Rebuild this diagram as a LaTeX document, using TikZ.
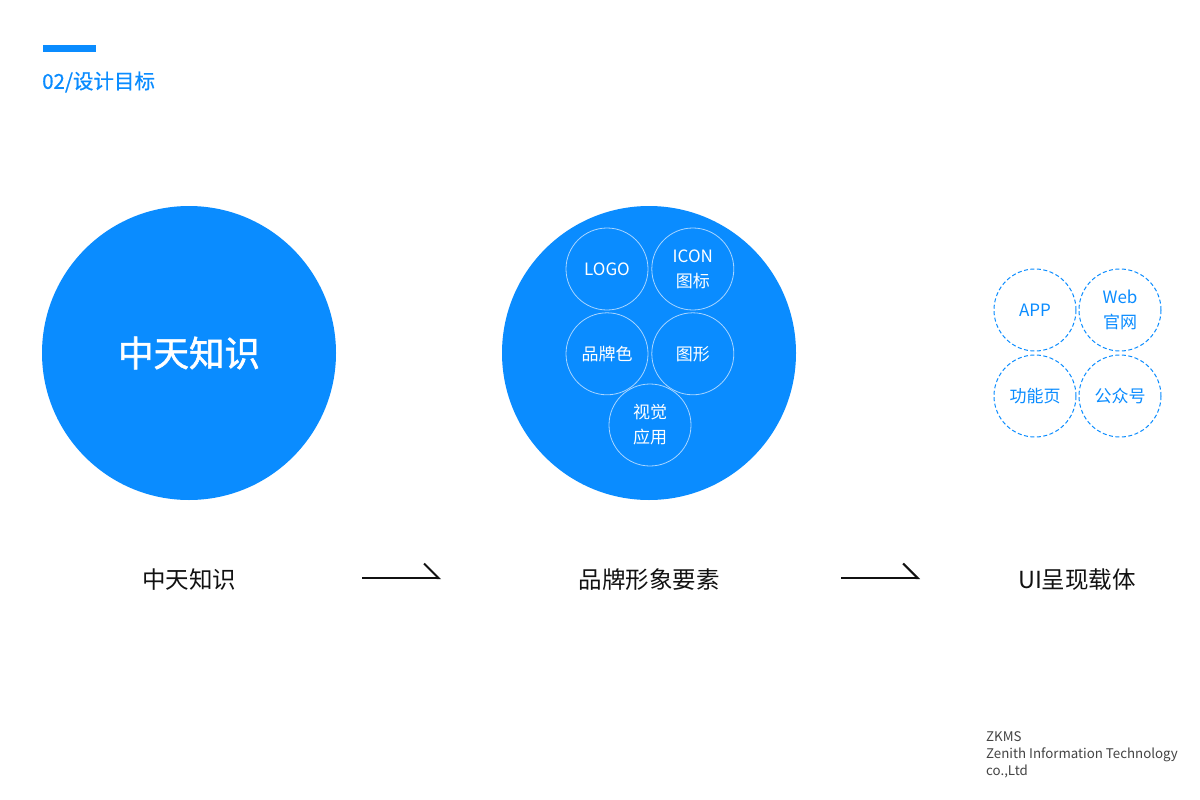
\documentclass[tikz,border=0pt]{standalone}
\usepackage{fontspec}
\setmainfont{Noto Sans CJK SC}
\newfontfamily\heavyfont{Noto Sans CJK SC}[FakeBold=1.6]
\newfontfamily\semifont{Noto Sans CJK SC}[FakeBold=0.6]
\usetikzlibrary{arrows.meta,positioning}
\definecolor{Brand}{HTML}{0A8CFF}
\definecolor{Ink}{HTML}{111111}
\definecolor{Grey}{HTML}{444444}
\definecolor{Ring}{HTML}{A8D5FF}

\begin{document}
\begin{tikzpicture}[
  x=1pt,y=-1pt,
  node distance=3pt,
  disc/.style={circle,fill=Brand,minimum size=294pt,inner sep=0pt},
  elem/.style={circle,draw=Ring,line width=0.8pt,minimum size=82pt,inner sep=0pt,align=center,text=white,font=\fontsize{17}{25}\selectfont},
  carrier/.style={circle,draw=Brand,dash pattern=on 4pt off 2.5pt,line width=1pt,minimum size=82pt,inner sep=0pt,align=center,text=Brand,font=\fontsize{17}{25}\selectfont},
  caption/.style={inner sep=0pt,text=Ink,font=\fontsize{23.5}{28}\selectfont},
  flow/.style={-{Straight Barb[left,length=14.5pt,width=29pt]},line width=2pt,draw=Ink}
]
\useasboundingbox (0,0) rectangle (1200,800);
\fill[white] (0,0) rectangle (1200,800);
% header
\fill[Brand] (43,45) rectangle (96,52);
\node[anchor=west,inner sep=0pt,text=Brand,font=\fontsize{20.5}{24}\semifont] (title) at (42,82) {02/设计目标};
% three stages
\node[disc,text=white,font=\fontsize{35.5}{40}\heavyfont] (source) at (189,353) {中天知识};
\node[disc] (brand) at (649,353) {};
\node[elem] (logo) at (607,269) {LOGO};
\node[elem,right=of logo] (icon) {ICON\\图标};
\node[elem,below=2pt of logo] (color) {品牌色};
\node[elem,right=of color] (shape) {图形};
\node[elem] (visual) at (650,425) {视觉\\应用};
\node[carrier] (app) at (1035,310) {APP};
\node[carrier,right=2pt of app] (web) {Web\\官网};
\node[carrier,below=3pt of app] (page) {功能页};
\node[carrier,right=2pt of page] (wechat) {公众号};
% captions and arrows
\node[caption] (srclabel) at (189,580) {中天知识};
\node[caption] (brandlabel) at (649,580) {品牌形象要素};
\node[caption] (uilabel) at (1077,580) {UI呈现载体};
\coordinate (flowAs) at (362,578);
\coordinate (flowAe) at (441,578);
\coordinate (flowBs) at (841,578);
\coordinate (flowBe) at (920,578);
\draw[flow] (flowAs) -- (flowAe);
\draw[flow] (flowBs) -- (flowBe);
% footer
\node[anchor=north west,inner sep=0pt,align=left,text=Grey,font=\fontsize{13.3}{17}\selectfont] (company) at (986,731) {ZKMS\\Zenith Information Technology\\co.,Ltd};
\end{tikzpicture}
\end{document}
